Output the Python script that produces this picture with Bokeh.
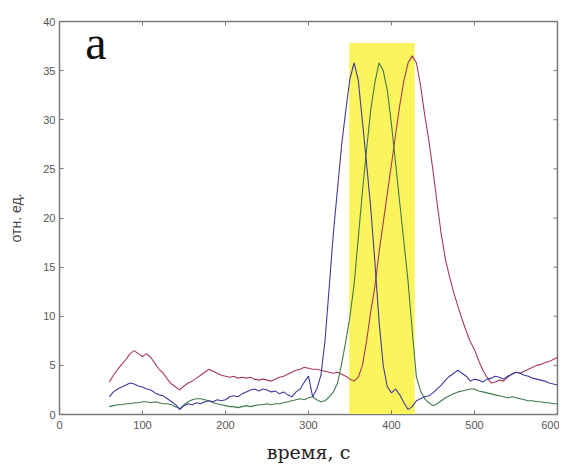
import math
from bokeh.plotting import figure
from bokeh.models import Label, FixedTicker, Range1d
from bokeh.embed import file_html
from bokeh.resources import INLINE

# ---- data ----
T = list(range(60, 605, 5))

BLUE = [1.8, 2.3, 2.6, 2.8, 3.0, 3.2, 3.1, 2.9, 2.8, 2.6,   # 60-105
        2.5, 2.2, 2.0, 1.9, 1.6, 1.3, 1.0, 0.5, 0.9, 1.1,   # 110-155
        1.0, 1.2, 1.1, 1.3, 1.4, 1.3, 1.5, 1.4, 1.5, 1.8,   # 160-205
        1.9, 1.8, 2.1, 2.3, 2.5, 2.6, 2.4, 2.6, 2.5, 2.3,   # 210-255
        2.4, 2.1, 2.3, 2.0, 1.8, 2.3, 2.6, 3.3, 3.9, 1.8,   # 260-305
        2.6, 4.0, 7.6, 13.0, 18.5, 23.0, 27.5, 31.0, 34.2, 35.8,  # 310-355
        34.0, 29.8, 25.5, 21.0, 15.5, 9.5, 5.0, 2.8, 2.2, 2.6,    # 360-405
        2.0, 1.2, 0.5, 0.8, 1.4, 1.6, 1.8, 1.9, 2.2, 2.6,   # 410-455
        3.0, 3.5, 3.9, 4.2, 4.5, 4.2, 3.9, 3.4, 3.6, 3.5,   # 460-505
        3.3, 3.6, 3.7, 3.9, 3.8, 3.6, 3.9, 4.1, 4.3, 4.2,   # 510-555
        4.0, 3.9, 3.7, 3.6, 3.5, 3.4, 3.2, 3.1, 3.0]        # 560-600

GREEN = [0.8, 0.9, 1.0, 1.0, 1.1, 1.1, 1.2, 1.2, 1.3, 1.3,  # 60-105
         1.2, 1.3, 1.2, 1.1, 1.1, 1.0, 0.8, 0.6, 1.0, 1.3,  # 110-155
         1.5, 1.6, 1.6, 1.5, 1.4, 1.2, 1.1, 1.0, 0.9, 0.8,  # 160-205
         0.8, 0.7, 0.8, 0.9, 0.8, 0.9, 1.0, 1.0, 1.1, 1.0,  # 210-255
         1.1, 1.1, 1.2, 1.3, 1.4, 1.5, 1.6, 1.5, 1.7, 1.8,  # 260-305
         1.5, 1.3, 1.4, 1.8, 2.3, 3.2, 5.2, 7.5, 10.0, 13.3,  # 310-355
         18.0, 22.7, 27.0, 31.0, 33.8, 35.8, 35.0, 33.0, 29.5, 25.5,  # 360-405
         21.5, 17.5, 13.5, 8.5, 3.8, 2.4, 1.6, 1.2, 0.9, 1.1,  # 410-455
         1.4, 1.7, 1.9, 2.1, 2.3, 2.4, 2.5, 2.6, 2.6, 2.4,  # 460-505
         2.3, 2.2, 2.1, 2.0, 1.9, 1.8, 1.7, 1.8, 1.7, 1.6,  # 510-555
         1.5, 1.4, 1.4, 1.3, 1.3, 1.2, 1.2, 1.1, 1.1]       # 560-600

RED = [3.3, 4.0, 4.6, 5.1, 5.6, 6.2, 6.5, 6.2, 5.9, 6.2,    # 60-105
       5.8, 5.2, 4.6, 4.2, 3.6, 3.1, 2.8, 2.5, 2.9, 3.2,    # 110-155
       3.4, 3.7, 4.0, 4.3, 4.6, 4.4, 4.2, 4.0, 3.9, 3.8,    # 160-205
       3.9, 3.7, 3.8, 3.7, 3.8, 3.6, 3.5, 3.6, 3.5, 3.4,    # 210-255
       3.6, 3.8, 3.9, 4.1, 4.3, 4.5, 4.6, 4.8, 4.7, 4.6,    # 260-305
       4.6, 4.5, 4.4, 4.3, 4.2, 4.3, 4.1, 3.9, 3.6, 3.4,    # 310-355
       3.8, 5.0, 7.5, 10.5, 13.0, 16.5, 19.5, 22.5, 25.5, 28.5,  # 360-405
       31.5, 34.0, 35.8, 36.5, 35.8, 33.5, 30.5, 27.9, 24.8, 21.5,  # 410-455
       18.3, 15.8, 14.0, 12.4, 11.0, 9.7, 8.5, 7.4, 6.6, 5.5,  # 460-505
       4.5, 3.8, 3.2, 3.3, 3.5, 3.4, 3.8, 4.1, 4.3, 4.2,    # 510-555
       4.4, 4.6, 4.8, 5.0, 5.1, 5.3, 5.4, 5.6, 5.8]         # 560-600

BAND_START, BAND_END, BAND_TOP = 349, 428, 37.8
X_TICKS = [0, 100, 200, 300, 400, 500, 600]
Y_TICKS = [0, 5, 10, 15, 20, 25, 30, 35, 40]
PANEL_LETTER = "a"
X_LABEL = "время, с"
Y_LABEL = "отн. ед."

AX = "#7a7a7a"

p = figure(width=559, height=465, output_backend="svg", toolbar_location=None,
           x_range=Range1d(0, 600), y_range=Range1d(0, 40),
           min_border_left=59, min_border_right=2, min_border_top=21, min_border_bottom=48)
p.background_fill_color = "white"
p.border_fill_color = "white"
p.xgrid.visible = False
p.ygrid.visible = False
p.outline_line_color = AX
p.outline_line_width = 1.5

p.quad(left=[BAND_START], right=[BAND_END], bottom=[0], top=[BAND_TOP],
       fill_color="#fcf45c", line_color=None)

p.line(T, RED, line_color="#a83a5a", line_width=1.1)
p.line(T, GREEN, line_color="#3f7a4e", line_width=1.1)
p.line(T, BLUE, line_color="#3c3c9c", line_width=1.1)

for ax in (p.xaxis[0], p.yaxis[0]):
    ax.axis_line_color = AX
    ax.major_tick_in = 4
    ax.major_tick_out = 0
    ax.minor_tick_line_color = None
    ax.major_tick_line_color = AX
    ax.major_label_text_font = "Liberation Sans"
    ax.major_label_text_font_size = "11px"
    ax.major_label_text_color = "#555555"

p.xaxis.ticker = FixedTicker(ticks=X_TICKS)
p.yaxis.ticker = FixedTicker(ticks=Y_TICKS)
p.xaxis.major_label_standoff = 6
p.yaxis.major_label_standoff = 4

p.xaxis.axis_label = X_LABEL
p.xaxis.axis_label_text_font = "DejaVu Serif"
p.xaxis.axis_label_text_font_size = "19px"
p.xaxis.axis_label_text_font_style = "normal"
p.xaxis.axis_label_text_color = "#222222"
p.xaxis.axis_label_standoff = 9

p.yaxis.axis_label = Y_LABEL
p.yaxis.axis_label_text_font = "Liberation Sans"
p.yaxis.axis_label_text_font_size = "14px"
p.yaxis.axis_label_text_font_style = "normal"
p.yaxis.axis_label_text_color = "#444444"
p.yaxis.axis_label_standoff = 16

# box tick marks on the right and top edges (inward, 4 px)
p.ray(x=[X_TICKS[-1]] * len(Y_TICKS), y=Y_TICKS, angle=math.pi, length=4,
      length_units="screen", line_color=AX, line_width=1)
p.ray(x=X_TICKS, y=[Y_TICKS[-1]] * len(X_TICKS), angle=-math.pi / 2, length=4,
      length_units="screen", line_color=AX, line_width=1)

p.add_layout(Label(x=31, y=35.2, text=PANEL_LETTER, text_font="Liberation Serif",
                   text_font_size="48px", text_color="#111111"))

open("out.html", "w").write(file_html(p, INLINE))
